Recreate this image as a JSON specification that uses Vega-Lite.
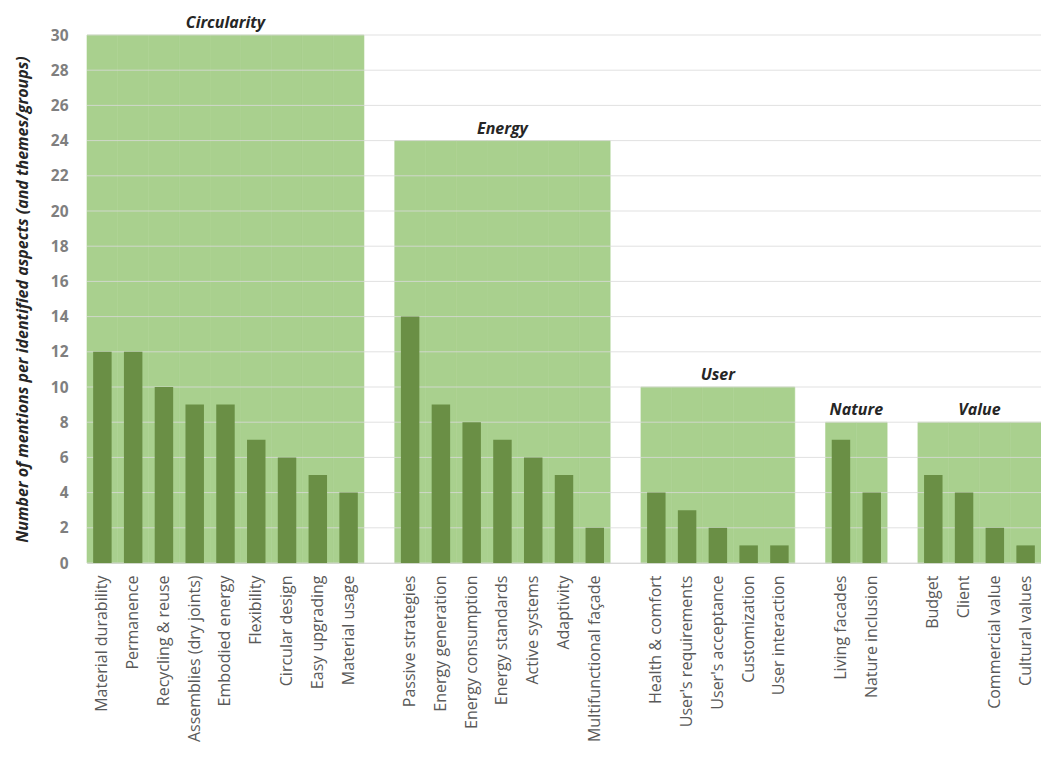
{
  "$schema": "https://vega.github.io/schema/vega-lite/v6.json",
  "width": 954,
  "height": 528,
  "autosize": "none",
  "padding": {"left": 87, "top": 35, "right": 0, "bottom": 205},
  "background": "white",
  "config": {
    "view": {"stroke": null},
    "font": "Open Sans",
    "axisY": {
      "grid": false, "ticks": false, "domain": false,
      "labelOverlap": false, "labelFlush": false, "labelBound": false, "labelSeparation": 0,
      "labelFontSize": 15.5, "labelFontWeight": "bold", "labelColor": "#7f7f7f", "labelPadding": 19,
      "titleFontSize": 16, "titleFontWeight": "bold", "titleFontStyle": "italic", "titleColor": "#262626",
      "titlePadding": 20
    }
  },
  "datasets": {
    "aspects": [
      {"aspect": "Material durability", "group": "Circularity", "count": 12, "total": 30},
      {"aspect": "Permanence", "group": "Circularity", "count": 12, "total": 30},
      {"aspect": "Recycling & reuse", "group": "Circularity", "count": 10, "total": 30},
      {"aspect": "Assemblies (dry joints)", "group": "Circularity", "count": 9, "total": 30},
      {"aspect": "Embodied energy", "group": "Circularity", "count": 9, "total": 30},
      {"aspect": "Flexibility", "group": "Circularity", "count": 7, "total": 30},
      {"aspect": "Circular design", "group": "Circularity", "count": 6, "total": 30},
      {"aspect": "Easy upgrading", "group": "Circularity", "count": 5, "total": 30},
      {"aspect": "Material usage", "group": "Circularity", "count": 4, "total": 30},
      {"aspect": "Passive strategies", "group": "Energy", "count": 14, "total": 24},
      {"aspect": "Energy generation", "group": "Energy", "count": 9, "total": 24},
      {"aspect": "Energy consumption", "group": "Energy", "count": 8, "total": 24},
      {"aspect": "Energy standards", "group": "Energy", "count": 7, "total": 24},
      {"aspect": "Active systems", "group": "Energy", "count": 6, "total": 24},
      {"aspect": "Adaptivity", "group": "Energy", "count": 5, "total": 24},
      {"aspect": "Multifunctional façade", "group": "Energy", "count": 2, "total": 24},
      {"aspect": "Health & comfort", "group": "User", "count": 4, "total": 10},
      {"aspect": "User's requirements", "group": "User", "count": 3, "total": 10},
      {"aspect": "User's acceptance", "group": "User", "count": 2, "total": 10},
      {"aspect": "Customization", "group": "User", "count": 1, "total": 10},
      {"aspect": "User interaction", "group": "User", "count": 1, "total": 10},
      {"aspect": "Living facades", "group": "Nature", "count": 7, "total": 8},
      {"aspect": "Nature inclusion", "group": "Nature", "count": 4, "total": 8},
      {"aspect": "Budget", "group": "Value", "count": 5, "total": 8},
      {"aspect": "Client", "group": "Value", "count": 4, "total": 8},
      {"aspect": "Commercial value", "group": "Value", "count": 2, "total": 8},
      {"aspect": "Cultural values", "group": "Value", "count": 1, "total": 8}
    ],
    "groups": [
      {"group": "Circularity", "aspect": "Embodied energy", "total": 30},
      {"group": "Energy", "aspect": "Energy standards", "total": 24},
      {"group": "User", "aspect": "User's acceptance", "total": 10},
      {"group": "Nature", "aspect": "Living facades", "total": 8},
      {"group": "Value", "aspect": "Client", "total": 8}
    ],
    "grid": [
      {"v": 0}, {"v": 2}, {"v": 4}, {"v": 6}, {"v": 8}, {"v": 10}, {"v": 12}, {"v": 14},
      {"v": 16}, {"v": 18}, {"v": 20}, {"v": 22}, {"v": 24}, {"v": 26}, {"v": 28}, {"v": 30}
    ]
  },
  "layer": [
    {
      "data": {"name": "aspects"},
      "mark": {"type": "bar", "color": "#a9d08e", "stroke": "#a9d08e", "strokeWidth": 0.6},
      "encoding": {
        "x": {
          "field": "aspect", "type": "nominal", "sort": null,
          "scale": {
            "domain": ["Material durability", "Permanence", "Recycling & reuse", "Assemblies (dry joints)", "Embodied energy", "Flexibility", "Circular design", "Easy upgrading", "Material usage", " ",
              "Passive strategies", "Energy generation", "Energy consumption", "Energy standards", "Active systems", "Adaptivity", "Multifunctional façade", "  ",
              "Health & comfort", "User's requirements", "User's acceptance", "Customization", "User interaction", "   ",
              "Living facades", "Nature inclusion", "    ",
              "Budget", "Client", "Commercial value", "Cultural values"],
            "paddingInner": 0, "paddingOuter": 0
          },
          "axis": {
            "title": null, "labelAngle": -90, "labelFontSize": 16, "labelColor": "#595959",
            "ticks": false, "domain": true, "domainColor": "#d9d9d9", "labelPadding": 12, "labelLimit": 0
          }
        },
        "y": {
          "field": "total", "type": "quantitative",
          "scale": {"domain": [0, 30], "nice": false},
          "axis": {"values": [0, 2, 4, 6, 8, 10, 12, 14, 16, 18, 20, 22, 24, 26, 28, 30], "labelOverlap": false, "title": "Number of mentions per identified aspects (and themes/groups)"}
        }
      }
    },
    {
      "data": {"name": "grid"},
      "mark": {"type": "rule", "color": "#d9d9d9", "strokeWidth": 1, "opacity": 0.8},
      "encoding": {"y": {"field": "v", "type": "quantitative", "axis": {"values": [0, 2, 4, 6, 8, 10, 12, 14, 16, 18, 20, 22, 24, 26, 28, 30], "labelOverlap": false, "title": "Number of mentions per identified aspects (and themes/groups)"}}}
    },
    {
      "data": {"name": "aspects"},
      "mark": {"type": "bar", "color": "#6a8f45", "width": {"band": 0.6}},
      "encoding": {
        "x": {"field": "aspect", "type": "nominal", "sort": null},
        "y": {"field": "count", "type": "quantitative", "axis": {"values": [0, 2, 4, 6, 8, 10, 12, 14, 16, 18, 20, 22, 24, 26, 28, 30], "labelOverlap": false, "title": "Number of mentions per identified aspects (and themes/groups)"}}
      }
    },
    {
      "data": {"name": "groups"},
      "transform": [{"filter": "datum.group !== 'Nature' && datum.group !== 'Value'"}],
      "mark": {"type": "text", "fontSize": 16, "fontWeight": "bold", "fontStyle": "italic", "color": "#262626", "baseline": "alphabetic", "dy": -7},
      "encoding": {
        "x": {"field": "aspect", "type": "nominal", "sort": null},
        "y": {"field": "total", "type": "quantitative", "axis": {"values": [0, 2, 4, 6, 8, 10, 12, 14, 16, 18, 20, 22, 24, 26, 28, 30], "labelOverlap": false, "title": "Number of mentions per identified aspects (and themes/groups)"}},
        "text": {"field": "group"}
      }
    },
    {
      "data": {"name": "groups"},
      "transform": [{"filter": "datum.group === 'Nature' || datum.group === 'Value'"}],
      "mark": {"type": "text", "fontSize": 16, "fontWeight": "bold", "fontStyle": "italic", "color": "#262626", "baseline": "alphabetic", "dy": -7},
      "encoding": {
        "x": {"field": "aspect", "type": "nominal", "sort": null, "bandPosition": 1},
        "y": {"field": "total", "type": "quantitative", "axis": {"values": [0, 2, 4, 6, 8, 10, 12, 14, 16, 18, 20, 22, 24, 26, 28, 30], "labelOverlap": false, "title": "Number of mentions per identified aspects (and themes/groups)"}},
        "text": {"field": "group"}
      }
    }
  ]
}
